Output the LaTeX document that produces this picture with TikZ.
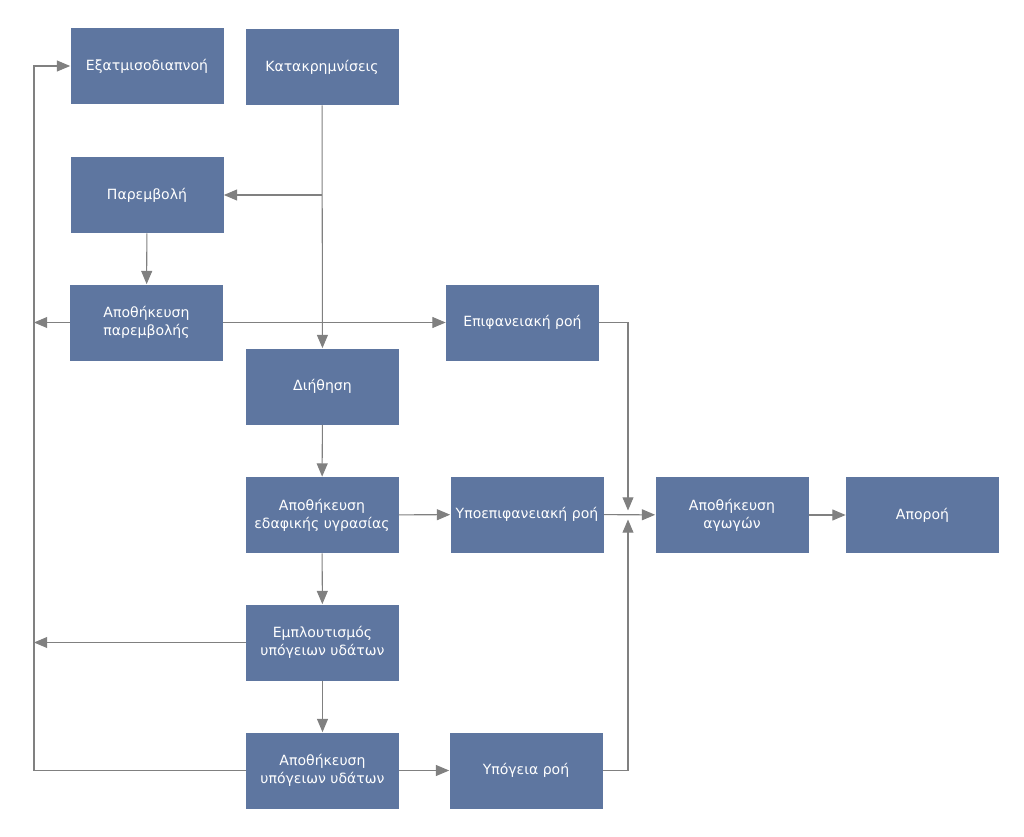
\documentclass[tikz,border=0pt]{standalone}
\usepackage{fontspec}
\setmainfont{DejaVu Sans}
\usetikzlibrary{arrows.meta}
\definecolor{boxblue}{RGB}{94,118,160}
\definecolor{linegray}{RGB}{128,128,128}
\tikzset{
  box/.style={fill=boxblue, text=white, align=center, inner sep=0pt,
    minimum width=3.06cm, minimum height=1.52cm,
    font=\fontsize{8}{10.2}\selectfont},
  flow/.style={draw=linegray, line width=0.6pt,
    -{Triangle[length=7.5pt, width=6.2pt]}},
  plain/.style={draw=linegray, line width=0.6pt}
}
\begin{document}
\begin{tikzpicture}
\useasboundingbox (0,0) rectangle (20.48,-16.74);
% boxes
\node[box] (evap) at (2.94,-1.32) {Εξατμισοδιαπνοή};
\node[box] (prec) at (6.44,-1.34) {Κατακρημνίσεις};
\node[box] (interc) at (2.94,-3.90) {Παρεμβολή};
\node[box] (intstor) at (2.93,-6.45) {Αποθήκευση\\παρεμβολής};
\node[box] (surf) at (10.45,-6.45) {Επιφανειακή ροή};
\node[box] (infil) at (6.45,-7.73) {Διήθηση};
\node[box] (soil) at (6.44,-10.30) {Αποθήκευση\\εδαφικής υγρασίας};
\node[box] (subsurf) at (10.54,-10.29) {Υποεπιφανειακή ροή};
\node[box] (chan) at (14.64,-10.30) {Αποθήκευση\\αγωγών};
\node[box] (runoff) at (18.45,-10.30) {Αποροή};
\node[box] (recharge) at (6.45,-12.85) {Εμπλουτισμός\\υπόγειων υδάτων};
\node[box] (gwstor) at (6.45,-15.41) {Αποθήκευση\\υπόγειων υδάτων};
\node[box] (gwflow) at (10.52,-15.41) {Υπόγεια ροή};
% helper points
\coordinate (lft) at (0.68,0);
\coordinate (mtop) at (12.56,-10.21);
\coordinate (mbot) at (12.56,-10.39);
% connectors
\draw[flow] (prec) -- (infil);
\draw[flow] (prec.south |- interc.east) -- (interc.east);
\draw[flow] (interc) -- (intstor);
\draw[flow] (intstor) -- (surf);
\draw[flow] (intstor.west) -- (intstor.west -| lft);
\draw[flow] (infil) -- (soil);
\draw[flow] (soil) -- (subsurf);
\draw[flow] (soil) -- (recharge);
\draw[flow] (recharge) -- (gwstor);
\draw[flow] (recharge.west) -- (recharge.west -| lft);
\draw[flow] (gwstor) -- (gwflow);
\draw[flow] (gwstor.west) -- (gwstor.west -| lft) |- (evap.west);
\draw[flow] (surf.east) -| (mtop);
\draw[flow] (gwflow.east) -| (mbot);
\draw[flow] (subsurf) -- (chan);
\draw[flow] (chan) -- (runoff);
\end{tikzpicture}
\end{document}
